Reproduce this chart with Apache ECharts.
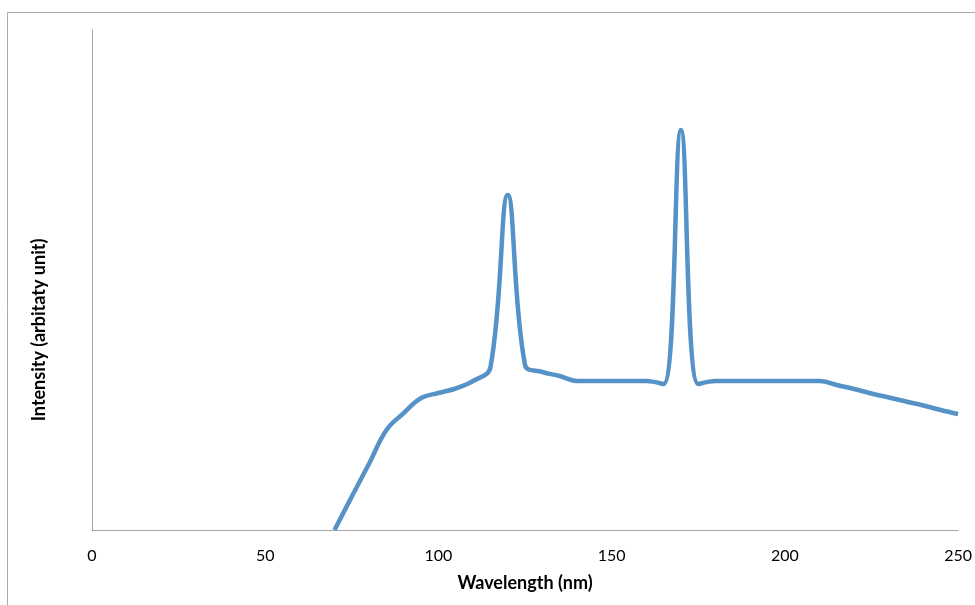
<!DOCTYPE html>
<html>
<head>
<meta charset="utf-8">
<script src="https://cdn.jsdelivr.net/npm/echarts@6/dist/echarts.min.js"></script>
<style>
html,body{margin:0;padding:0;background:#fff;}
#chart{width:975px;height:605px;}
</style>
</head>
<body>
<div id="chart"></div>
<script>
var wavelength = [70,75,80,85,90,95,100,105,110,115,120,125,130,135,140,145,150,155,160,165,170,175,180,185,190,195,200,205,210,215,220,225,230,235,240,245,250];
var intensity  = [0,6.7,13.3,20,23.4,26.4,27.4,28.3,29.8,32.5,67,33,31.6,30.8,29.8,29.8,29.8,29.8,29.8,29.2,80,29.2,29.8,29.8,29.8,29.8,29.8,29.8,29.8,29.0,28.2,27.3,26.5,25.7,24.9,24.0,23.2];
var xTicks = [0,50,100,150,200,250];

var chart = echarts.init(document.getElementById('chart'), null, {renderer:'canvas'});
var seriesData = wavelength.map(function(w,i){return [w,intensity[i]];});
chart.setOption({
  animation:false,
  backgroundColor:'#fff',
  graphic:[{type:'rect',shape:{x:7.5,y:12.5,width:1000,height:700},style:{fill:'none',stroke:'#ababab',lineWidth:1},z:-1}],
  grid:{left:92,right:15,top:30,bottom:75,containLabel:false},
  xAxis:{
    type:'value',min:0,max:250,interval:50,
    axisLine:{show:true,lineStyle:{color:'#a6a6a6',width:1}},
    axisTick:{show:false},
    splitLine:{show:false},
    axisLabel:{color:'#000',fontSize:16,fontFamily:'Lato',margin:18,
      formatter:function(v){return xTicks.indexOf(v)>=0?String(v):'';}},
    name:'Wavelength (nm)',nameLocation:'middle',nameGap:44,
    nameTextStyle:{color:'#000',fontSize:18,fontWeight:'bold',fontFamily:'Lato'}
  },
  yAxis:{
    type:'value',min:0,max:100,
    axisLine:{show:true,lineStyle:{color:'#a6a6a6',width:1}},
    axisTick:{show:false},
    axisLabel:{show:false},
    splitLine:{show:false},
    name:'Intensity (arbitaty unit)',nameLocation:'middle',nameGap:44,
    nameTextStyle:{color:'#000',fontSize:18,fontWeight:'bold',fontFamily:'Lato',padding:[0,100,0,0]}
  },
  series:[{
    type:'line',data:seriesData,smooth:0.4,showSymbol:false,
    lineStyle:{color:'#5592c8',width:4.5},
    clip:true
  }]
});
</script>
</body>
</html>
